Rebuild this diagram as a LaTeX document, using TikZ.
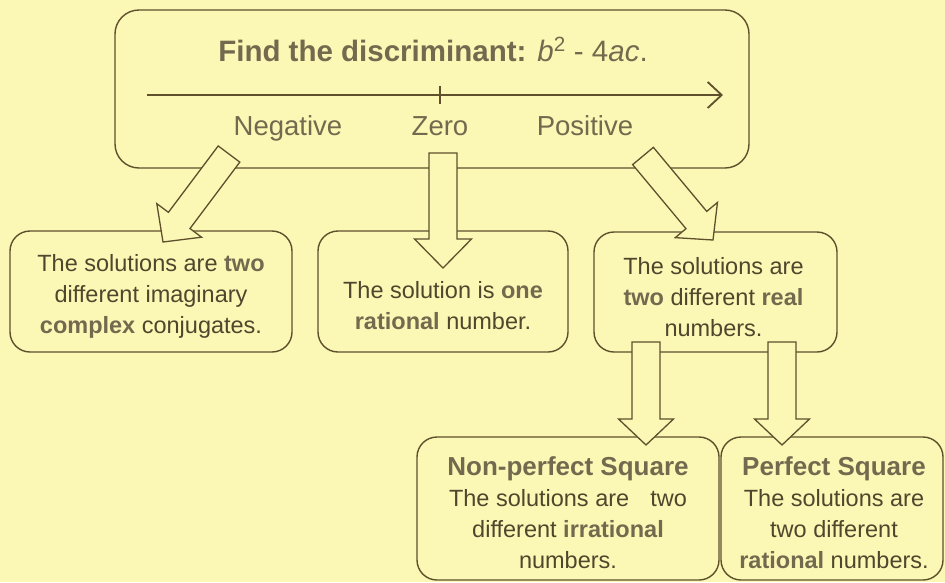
\documentclass[tikz,border=0pt]{standalone}
\usepackage{fontspec}
\setmainfont{Liberation Sans}
\usetikzlibrary{calc,arrows.meta}
\definecolor{bg}{RGB}{251,247,180}
\definecolor{ink}{RGB}{80,70,45}
\definecolor{boldink}{RGB}{115,105,78}
\definecolor{edge}{RGB}{95,80,45}
\newcommand{\bt}[1]{{\bfseries\color{boldink}#1}}
% block arrow: start, end, shaft half width, head half width, head length
\newcommand{\blockarrow}[5]{%
  \coordinate (tmph) at ($(#2)!#5!(#1)$);
  \draw[arrowbody] ($(#1)!#3!90:(#2)$) -- ($(tmph)!#3!90:(#2)$) -- ($(tmph)!#4!90:(#2)$) -- (#2)
    -- ($(tmph)!#4!-90:(#2)$) -- ($(tmph)!#3!-90:(#2)$) -- ($(#1)!#3!-90:(#2)$) -- cycle;}
\begin{document}
\begin{tikzpicture}[x=1pt,y=-1pt,
  box/.style={draw=edge, line width=1.4pt, inner sep=0pt, rounded corners=20pt},
  arrowbody/.style={draw=edge, fill=bg, line width=1.3pt, line join=miter},
  txt/.style={text=ink, align=center, inner sep=0pt, font=\fontsize{23.5}{31}\selectfont},
  lbl/.style={text=boldink, inner sep=0pt, anchor=base, font=\fontsize{27.5}{30}\selectfont}]
\fill[bg] (0,0) rectangle (945,582);
\useasboundingbox (0,0) rectangle (945,582);

% top box
\node[box, rounded corners=24pt, minimum width=634pt, minimum height=158pt] (top) at (432,89) {};
\node[inner sep=0pt, anchor=base, text=boldink, font=\fontsize{29.5}{32}\selectfont] (title) at (433,61)
  {\textbf{Find the discriminant:} \textit{b}\textsuperscript{2} - 4\textit{ac}.};
\coordinate (ax1) at (147,95);
\coordinate (ax2) at (723,95);
\draw[draw=edge, line width=1.8pt, -{Straight Barb[length=14pt,width=26pt,line width=1.8pt]}] (ax1) -- (ax2);
\coordinate (tk1) at (440,86);
\coordinate (tk2) at (440,104);
\draw[draw=edge, line width=1.2pt] (tk1) -- (tk2);
\node[lbl] (neg) at (288,135) {Negative};
\node[lbl] (zero) at (440,135) {Zero};
\node[lbl] (pos) at (585,135) {Positive};

% second row boxes
\node[box, minimum width=282pt, minimum height=121pt] (bA) at (151,291.5) {};
\node[box, minimum width=250pt, minimum height=121pt] (bB) at (443,291.5) {};
\node[box, minimum width=243pt, minimum height=120pt] (bC) at (715.5,292) {};
\node[txt] (tA) at ($(bA.center)+(0,5)$) {The solutions are \bt{two}\\different imaginary\\\bt{complex} conjugates.};
\node[txt] (tB) at ($(bB.center)+(0,14)$) {The solution is \bt{one}\\\bt{rational} number.};
\node[txt] (tC) at ($(bC.center)+(-2,5)$) {The solutions are\\\bt{two} different \bt{real}\\numbers.};

% third row boxes
\node[box, minimum width=302pt, minimum height=143pt] (bD) at (568,508.5) {};
\node[box, minimum width=222pt, minimum height=143pt] (bE) at (832,508.5) {};
\node[txt] (tD) at ($(bD.center)+(0,4)$) {{\fontsize{26}{31}\selectfont\bt{Non-perfect Square}}\\The solutions are\hspace{0.9em}two\\different \bt{irrational}\\numbers.};
\node[txt] (tE) at ($(bE.center)+(2,4)$) {{\fontsize{26}{31}\selectfont\bt{Perfect Square}}\\The solutions are\\two different\\\bt{rational} numbers.};

% block arrows
\coordinate (s1) at (229,154); \coordinate (e1) at (163,242);
\coordinate (s2) at (443,153); \coordinate (e2) at (443,268);
\coordinate (s3) at (643,156); \coordinate (e3) at (713,240);
\coordinate (s4) at (646,342); \coordinate (e4) at (646,445);
\coordinate (s5) at (782,342); \coordinate (e5) at (782,445);
\blockarrow{s1}{e1}{13.5pt}{28pt}{27pt}
\blockarrow{s2}{e2}{14pt}{28.5pt}{29pt}
\blockarrow{s3}{e3}{13.5pt}{27.5pt}{26pt}
\blockarrow{s4}{e4}{14pt}{27.5pt}{26pt}
\blockarrow{s5}{e5}{14pt}{27.5pt}{26pt}
\end{tikzpicture}
\end{document}
